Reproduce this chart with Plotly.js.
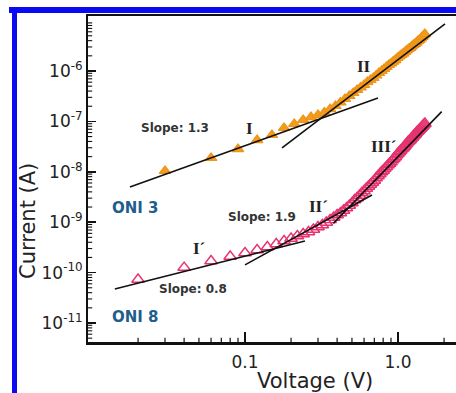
<!DOCTYPE html>
<html>
<head>
<meta charset="utf-8">
<script src="https://cdn.plot.ly/plotly-3.0.1.min.js"></script>
<style>
html,body{margin:0;padding:0;background:#fff;overflow:hidden;}
#chart{width:456px;height:393px;}
</style>
</head>
<body>
<div id="chart"></div>
<script>
// ONI 3 (orange filled triangles)
const voltageONI3 = [0.03,0.06,0.09,0.12,0.15,0.18,0.21,0.24,0.27,0.30,
  0.33,0.36,0.39,0.42,0.45,0.48,0.51,0.54,0.57,0.60,
  0.63,0.66,0.69,0.72,0.75,0.78,0.81,0.84,0.87,0.90,
  0.93,0.96,0.99,1.02,1.05,1.08,1.11,1.14,1.17,1.20,
  1.23,1.26,1.29,1.32,1.35,1.38,1.41,1.44,1.47,1.50];
const currentONI3 = [1.04e-8,1.88e-8,2.83e-8,4.27e-8,5.37e-8,7.4e-8,8.9e-8,1.07e-7,1.22e-7,1.34e-7,
  1.50e-7,1.76e-7,2.02e-7,2.37e-7,2.78e-7,3.19e-7,3.66e-7,4.20e-7,4.71e-7,5.28e-7,
  6.05e-7,6.63e-7,7.26e-7,8.14e-7,9.12e-7,1.00e-6,1.10e-6,1.20e-6,1.32e-6,1.41e-6,
  1.54e-6,1.65e-6,1.81e-6,1.94e-6,2.08e-6,2.22e-6,2.38e-6,2.55e-6,2.73e-6,2.86e-6,
  3.06e-6,3.28e-6,3.43e-6,3.67e-6,3.94e-6,4.12e-6,4.41e-6,4.73e-6,5.06e-6,5.42e-6];

// ONI 8 (pink open triangles)
const voltageONI8 = [0.02,0.04,0.06,0.08,0.10,0.12,0.14,0.16,0.18,0.20,
  0.22,0.24,0.26,0.28,0.30,0.32,0.34,0.36,0.38,0.40,
  0.42,0.44,0.46,0.48,0.50,0.52,0.54,0.56,0.58,0.60,
  0.62,0.64,0.66,0.68,0.70,0.72,0.74,0.76,0.78,0.80,
  0.82,0.84,0.86,0.88,0.90,0.92,0.94,0.96,0.98,1.00,
  1.02,1.04,1.06,1.08,1.10,1.12,1.14,1.16,1.18,1.20,
  1.22,1.24,1.26,1.28,1.30,1.32,1.34,1.36,1.38,1.40,
  1.42,1.44,1.46,1.48,1.50];
const currentONI8 = [7.30e-11,1.26e-10,1.70e-10,2.09e-10,2.45e-10,2.81e-10,3.22e-10,3.69e-10,4.24e-10,4.75e-10,
  5.32e-10,5.83e-10,6.39e-10,7.16e-10,8.03e-10,8.80e-10,9.86e-10,1.11e-9,1.24e-9,1.39e-9,
  1.52e-9,1.71e-9,1.91e-9,2.14e-9,2.40e-9,2.76e-9,3.02e-9,3.39e-9,3.80e-9,4.16e-9,
  4.67e-9,5.11e-9,5.60e-9,6.14e-9,6.72e-9,7.54e-9,8.26e-9,9.04e-9,9.91e-9,1.06e-8,
  1.16e-8,1.25e-8,1.36e-8,1.46e-8,1.56e-8,1.71e-8,1.84e-8,1.97e-8,2.16e-8,2.31e-8,
  2.47e-8,2.65e-8,2.83e-8,2.97e-8,3.18e-8,3.40e-8,3.65e-8,3.90e-8,4.08e-8,4.27e-8,
  4.58e-8,4.80e-8,5.13e-8,5.37e-8,5.62e-8,6.02e-8,6.31e-8,6.60e-8,6.91e-8,7.23e-8,
  7.57e-8,7.92e-8,8.29e-8,8.68e-8,9.08e-8];

// Fit lines (end points)
const fitI_V = [0.0177, 0.74],   fitI_I = [4.99e-9, 2.91e-7];
const fitII_V = [0.1746, 2.03],  fitII_I = [2.97e-8, 8.57e-6];
const fitI8_V = [0.0141, 0.2466], fitI8_I = [4.73e-11, 4.24e-10];
const fitII8_V = [0.10, 0.676],  fitII8_I = [1.42e-10, 3.47e-9];
const fitIII8_V = [0.378, 1.93], fitIII8_I = [9.5e-10, 1.56e-7];

// Tick labels
const xTickVals = [0.1, 1];
const xTickText = ['0.1', '1.0'];
const yTickVals = [1e-11, 1e-10, 1e-9, 1e-8, 1e-7, 1e-6];
const yTickText = ['10<sup>-11</sup>', '10<sup>-10</sup>', '10<sup>-9</sup>', '10<sup>-8</sup>', '10<sup>-7</sup>', '10<sup>-6</sup>'];

// Layout geometry (pixels)
const W = 456, H = 393, L = 88, T = 16, B = 51, R = 0;
const pw = W - L - R, ph = H - T - B;
const px = x => (x - L) / pw;
const py = y => (H - B - y) / ph;

const xRange = [-1 + (L - 245) / 153, -1 + (W - R - 245) / 153];
const yRange = [-11 - (H - B - 323) / 50.4, -6 + (71 - T) / 50.4];

// minor tick values (2..9 of each decade)
const xMinor = [];
[0.01, 0.1, 1].forEach(d => { for (let k = 2; k <= 9; k++) { const v = k * d; if (v < 2.4) xMinor.push(v); } });
const yMinor = [];
[1e-12,1e-11,1e-10,1e-9,1e-8,1e-7,1e-6,1e-5].forEach(d => { for (let k = 2; k <= 9; k++) yMinor.push(k * d); });

const fitLine = (xs, ys) => ({x: xs, y: ys, mode: 'lines', type: 'scatter',
  line: {color: '#111', width: 1.6}, hoverinfo: 'skip', showlegend: false});

const traces = [
  {x: voltageONI3, y: currentONI3, mode: 'markers', type: 'scatter', name: 'ONI 3',
   marker: {symbol: 'triangle-up', size: 10, color: '#f39c1c', line: {color: '#ee9418', width: 1.2}}},
  {x: voltageONI8, y: currentONI8, mode: 'markers', type: 'scatter', name: 'ONI 8',
   marker: {symbol: 'triangle-up-open', size: 11, color: '#e6336f', line: {color: '#e6336f', width: 1.4}}},
  fitLine(fitI_V, fitI_I), fitLine(fitII_V, fitII_I),
  fitLine(fitI8_V, fitI8_I), fitLine(fitII8_V, fitII8_I), fitLine(fitIII8_V, fitIII8_I),
  // minor tick marks on the axes (half of each mark is clipped by the plot area -> inside ticks)
  {x: xMinor, y: xMinor.map(() => Math.pow(10, yRange[0])), mode: 'markers', type: 'scatter',
   marker: {symbol: 'line-ns-open', size: 6, color: '#111', line: {color: '#111', width: 1.2}},
   hoverinfo: 'skip', showlegend: false},
  {x: yMinor.map(() => Math.pow(10, xRange[0])), y: yMinor, mode: 'markers', type: 'scatter',
   marker: {symbol: 'line-ew-open', size: 6, color: '#111', line: {color: '#111', width: 1.1}},
   hoverinfo: 'skip', showlegend: false}
];

const sans = 'DejaVu Sans, Arial, sans-serif';
const serif = 'Liberation Serif, Times New Roman, serif';
const ann = (text, x, y, font, extra) => Object.assign({text, xref: 'paper', yref: 'paper',
  x: px(x), y: py(y), xanchor: 'center', yanchor: 'middle', showarrow: false, font}, extra || {});
const slopeFont = {family: sans, size: 12, color: '#333', weight: 'bold'};
const romanFont = {family: serif, size: 17, color: '#222', weight: 'bold'};
const oniFont = {family: sans, size: 15, color: '#1f5d8c', weight: 'bold'};

const annotations = [
  ann('Slope: 1.3', 175, 128, slopeFont),
  ann('I', 249, 128, romanFont),
  ann('II', 364, 66, romanFont),
  ann('ONI 3', 135, 208, oniFont),
  ann('Slope: 1.9', 262, 217, slopeFont),
  ann('II´', 318, 206, romanFont),
  ann('III´', 384, 146, romanFont),
  ann('I´', 199, 248, romanFont),
  ann('Slope: 0.8', 193, 289, slopeFont),
  ann('ONI 8', 135, 317, oniFont),
  ann('Voltage (V)', 315, 381, {family: sans, size: 21, color: '#222'}),
  ann('Current (A)', 28, 221, {family: sans, size: 21, color: '#222'}, {textangle: -90})
];

const blue = '#0b0bf2';
const shapes = [
  {type: 'line', xref: 'paper', yref: 'paper', x0: px(9), x1: px(470), y0: py(10), y1: py(10), line: {color: blue, width: 6}},
  {type: 'line', xref: 'paper', yref: 'paper', x0: px(14.5), x1: px(14.5), y0: py(7), y1: py(400), line: {color: blue, width: 5}}
];

const layout = {
  width: W, height: H,
  margin: {l: L, r: R, t: T, b: B, pad: 0},
  paper_bgcolor: '#fff', plot_bgcolor: '#fff',
  showlegend: false, hovermode: false,
  font: {family: sans, color: '#222'},
  xaxis: {
    type: 'log', range: xRange,
    tickmode: 'array', tickvals: xTickVals, ticktext: xTickText,
    ticks: 'inside', ticklen: 10, tickwidth: 1.5, tickcolor: '#111',
    showline: true, linecolor: '#111', linewidth: 2.5, mirror: true,
    showgrid: false, zeroline: false,
    tickfont: {family: sans, size: 17, color: '#222'},
    ticklabelstandoff: 3
  },
  yaxis: {
    type: 'log', range: yRange,
    tickmode: 'array', tickvals: yTickVals, ticktext: yTickText,
    ticks: 'inside', ticklen: 8, tickwidth: 1.5, tickcolor: '#111',
    showline: true, linecolor: '#111', linewidth: 2, mirror: false,
    showgrid: false, zeroline: false,
    tickfont: {family: sans, size: 17, color: '#222'}
  },
  annotations, shapes
};

Plotly.newPlot('chart', traces, layout, {displayModeBar: false, staticPlot: true});
</script>
</body>
</html>
